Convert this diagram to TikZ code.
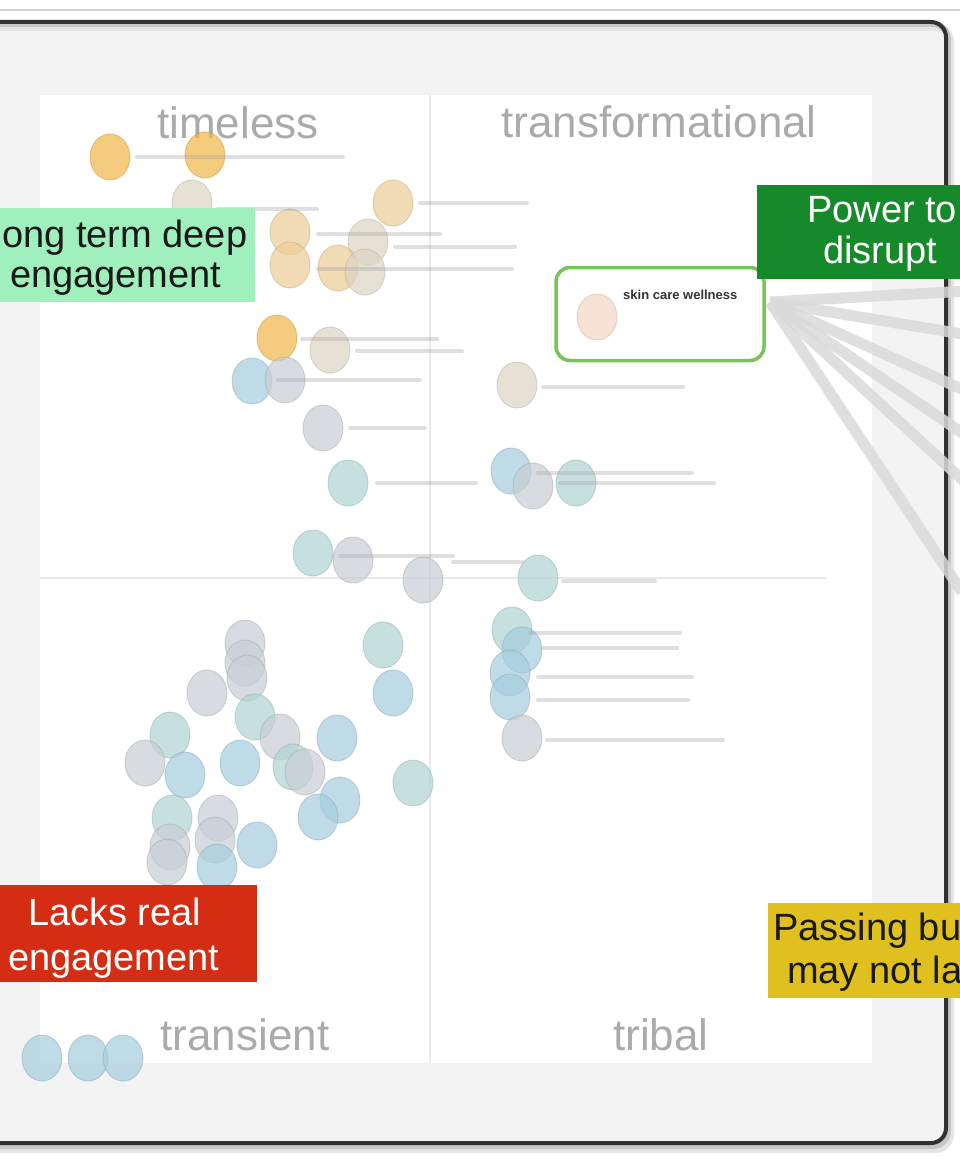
\documentclass[tikz,border=0pt]{standalone}
\usepackage{fontspec}
\setmainfont{Liberation Sans}
\definecolor{frame}{RGB}{50,50,50}
\definecolor{bgout}{RGB}{243,243,243}
\definecolor{divider}{RGB}{234,234,234}
\definecolor{qlabel}{RGB}{170,170,170}
\definecolor{mint}{RGB}{160,240,190}
\definecolor{dgreen}{RGB}{22,138,42}
\definecolor{lgreen}{RGB}{120,195,90}
\definecolor{redbox}{RGB}{212,45,20}
\definecolor{yelbox}{RGB}{224,192,30}
\definecolor{fan}{RGB}{218,218,218}
\definecolor{cO}{RGB}{242,182,70}
\definecolor{cOl}{RGB}{236,205,150}
\definecolor{cBe}{RGB}{222,212,195}
\definecolor{cB}{RGB}{165,205,222}
\definecolor{cG}{RGB}{200,206,212}
\definecolor{cT}{RGB}{175,212,212}
\definecolor{cP}{RGB}{245,215,195}
\tikzset{
  dotshape/.style={line width=1pt, fill opacity=0.7, draw opacity=0.4},
  lblbar/.style={line width=4pt, draw=gray!70, opacity=0.35, line cap=round},
  calltxt/.style={font=\fontsize{38}{40}\selectfont, inner sep=0pt, anchor=base west},
  quadtxt/.style={font=\fontsize{44}{46}\selectfont, text=qlabel, inner sep=0pt, anchor=base},
  fanline/.style={line width=11pt, draw=fan, opacity=0.85},
}
\newcommand\dotc[3]{\filldraw[dotshape, fill=#1, draw=#1!80!black] (#2,#3) ellipse [x radius=20pt, y radius=23pt];}
\newcommand\lblb[3]{\draw[lblbar] (#1,#3) -- (#2,#3);}
\begin{document}
\begin{tikzpicture}[x=1pt,y=-1pt]
\useasboundingbox (0,0) rectangle (960,1164);
\clip (0,0) rectangle (960,1164);
% outer background
\fill[white] (0,0) rectangle (960,1164);
\draw[line width=1.5pt, gray!35] (0,10) -- (960,10);
% frame inside
\fill[bgout, rounded corners=15pt] (-20,22) -- (947,22) -- (947,1144) -- (-20,1144) -- cycle;
% plot panel
\fill[white] (40,95) rectangle (872,1063);
\draw[line width=2pt, divider] (430,95) -- (430,1063);
\draw[line width=2pt, divider] (40,578) -- (826,578);
% quadrant labels
\node[quadtxt] (qtl) at (238,138) {timeless};
\node[quadtxt] (qtr) at (659,137) {transformational};
\node[quadtxt] (qbl) at (245,1050) {transient};
\node[quadtxt] (qbr) at (661,1050) {tribal};
% circles - upper
\dotc{cO}{110}{157}
\dotc{cO}{205}{155}
\dotc{cBe}{192}{203}
\dotc{cOl}{393}{203}
\dotc{cOl}{290}{232}
\dotc{cOl}{290}{265}
\dotc{cBe}{368}{242}
\dotc{cOl}{338}{268}
\dotc{cBe}{365}{272}
\dotc{cO}{277}{338}
\dotc{cBe}{330}{350}
\dotc{cB}{252}{381}
\dotc{cG}{285}{380}
\dotc{cBe}{517}{385}
\dotc{cG}{323}{428}
\dotc{cT}{348}{483}
\dotc{cT}{313}{553}
\dotc{cG}{353}{560}
\dotc{cG}{423}{580}
\dotc{cB}{511}{471}
\dotc{cG}{533}{486}
\dotc{cT}{576}{483}
\dotc{cT}{538}{578}
\dotc{cT}{512}{630}
\dotc{cB}{522}{650}
\dotc{cB}{510}{673}
\dotc{cB}{510}{697}
\dotc{cG}{522}{738}
% circles - lower left cluster
\dotc{cG}{245}{643}
\dotc{cG}{245}{663}
\dotc{cG}{247}{678}
\dotc{cG}{207}{693}
\dotc{cT}{255}{717}
\dotc{cT}{170}{735}
\dotc{cG}{145}{763}
\dotc{cB}{185}{775}
\dotc{cB}{240}{763}
\dotc{cG}{280}{737}
\dotc{cT}{293}{767}
\dotc{cG}{305}{772}
\dotc{cB}{337}{738}
\dotc{cT}{383}{645}
\dotc{cB}{393}{693}
\dotc{cT}{413}{783}
\dotc{cB}{340}{800}
\dotc{cB}{318}{817}
\dotc{cT}{172}{818}
\dotc{cG}{218}{818}
\dotc{cG}{170}{847}
\dotc{cG}{215}{840}
\dotc{cB}{257}{845}
\dotc{cB}{217}{867}
\dotc{cG}{167}{862}
% bottom row
\dotc{cB}{42}{1058}
\dotc{cB}{88}{1058}
\dotc{cB}{123}{1058}
% illegible small labels
\lblb{137}{343}{157}
\lblb{218}{317}{209}
\lblb{420}{527}{203}
\lblb{318}{440}{234}
\lblb{395}{515}{247}
\lblb{318}{512}{269}
\lblb{302}{437}{339}
\lblb{357}{462}{351}
\lblb{278}{420}{380}
\lblb{543}{683}{387}
\lblb{350}{425}{428}
\lblb{377}{476}{483}
\lblb{340}{453}{556}
\lblb{453}{522}{562}
\lblb{538}{692}{473}
\lblb{560}{714}{483}
\lblb{563}{655}{581}
\lblb{530}{680}{633}
\lblb{543}{677}{648}
\lblb{538}{692}{677}
\lblb{538}{688}{700}
\lblb{547}{723}{740}
% skin care box
\node[draw=lgreen, fill=white, line width=3.5pt, rounded corners=14pt, minimum width=208pt, minimum height=93pt, inner sep=0pt] (skin) at (660,314) {};
\dotc{cP}{597}{317}
\node[font=\bfseries\fontsize{13}{15}\selectfont, text=gray!40!black, inner sep=0pt, anchor=base west] (skintxt) at (623,299) {skin care wellness};
% frame with shadow
\draw[line width=8pt, gray!20, rounded corners=15pt] (-20,27) -- (950,27) -- (950,1149) -- (-20,1149);
\draw[line width=6pt, gray!45, rounded corners=15pt] (-20,24) -- (948,24) -- (948,1146) -- (-20,1146);
\draw[line width=4pt, frame, rounded corners=15pt] (-20,22) -- (946,22) -- (946,1143) -- (-20,1143);
% fan lines from skin care box
\coordinate (fo) at (770,302);
\coordinate (f1) at (968,291);
\coordinate (f2) at (968,335);
\coordinate (f3) at (968,392);
\coordinate (f4) at (968,437);
\coordinate (f5) at (968,485);
\coordinate (f6) at (962,592);
\draw[fanline] (fo) -- (f1);
\draw[fanline] (fo) -- (f2);
\draw[fanline] (fo) -- (f3);
\draw[fanline] (fo) -- (f4);
\draw[fanline] (fo) -- (f5);
\draw[fanline] (fo) -- (f6);
% callouts
\fill[mint] (-5,208) rectangle (255,302);
\node[calltxt, text=black!90] (ltd1) at (2,247) {ong term deep};
\node[calltxt, text=black!90] (ltd2) at (10,287) {engagement};
\fill[dgreen] (757,185) rectangle (965,279);
\node[calltxt, text=white] (ptd1) at (807,222) {Power to};
\node[calltxt, text=white] (ptd2) at (823,263) {disrupt};
\fill[redbox] (-5,885) rectangle (257,982);
\node[calltxt, text=white] (lre1) at (28,925) {Lacks real};
\node[calltxt, text=white] (lre2) at (8,970) {engagement};
\fill[yelbox] (768,903) rectangle (965,998);
\node[calltxt, text=black!90] (pbm1) at (773,940) {Passing bu};
\node[calltxt, text=black!90] (pbm2) at (787,983) {may not la};
\end{tikzpicture}
\end{document}
